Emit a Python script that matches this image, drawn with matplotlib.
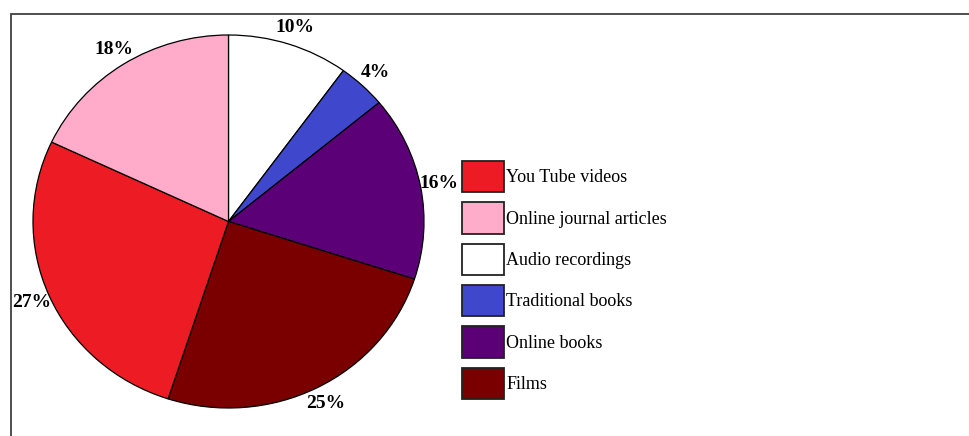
import matplotlib
matplotlib.use('Agg')
import matplotlib.pyplot as plt
from matplotlib.patches import Patch, Rectangle

# share of study resources used, going clockwise from 12 o'clock
sources = ['Audio recordings', 'Traditional books', 'Online books',
           'Films', 'You Tube videos', 'Online journal articles']
shares = [10, 4, 16, 25, 27, 18]
colors = ['#ffffff', '#3f48cc', '#5c0078', '#7a0000', '#ed1c24', '#ffabc9']

legend_order = ['You Tube videos', 'Online journal articles', 'Audio recordings',
                'Traditional books', 'Online books', 'Films']

W, H = 970, 436
fig = plt.figure(figsize=(W / 100, H / 100), dpi=100)

# outer frame: only the top and left edges are in view
fig.add_artist(Rectangle((11 / W, -0.1), 1.2, (H - 14) / H + 0.1,
                         transform=fig.transFigure, fill=False,
                         edgecolor='#404040', linewidth=1.3))

ax = fig.add_axes([33 / W, 28 / H, 391 / W, 373 / H])
wedges, texts, pcts = ax.pie(
    shares, colors=colors, startangle=90, counterclock=False,
    autopct=lambda p: '%.0f%%' % p, pctdistance=1.095,
    wedgeprops=dict(edgecolor='black', linewidth=0.9),
    textprops=dict(family='Liberation Serif', fontweight='bold',
                   fontsize=14, color='black'))
ax.set_aspect('auto')
ax.set_xlim(-1, 1)
ax.set_ylim(-1, 1)
ax.axis('off')
for t in pcts:
    t.set_clip_on(False)

handles = []
for name in legend_order:
    i = sources.index(name)
    handles.append(Patch(facecolor=colors[i], edgecolor='#222222',
                         linewidth=1.3, label=name))

fig.legend(handles=handles, loc='upper left',
           bbox_to_anchor=(462 / W, 1 - 161 / H), frameon=False,
           prop=dict(family='Liberation Serif', size=13),
           handlelength=2.35, handleheight=2.3, handletextpad=0.1,
           labelspacing=0.55, borderpad=0, borderaxespad=0)

fig.savefig('out.png', dpi=100)
